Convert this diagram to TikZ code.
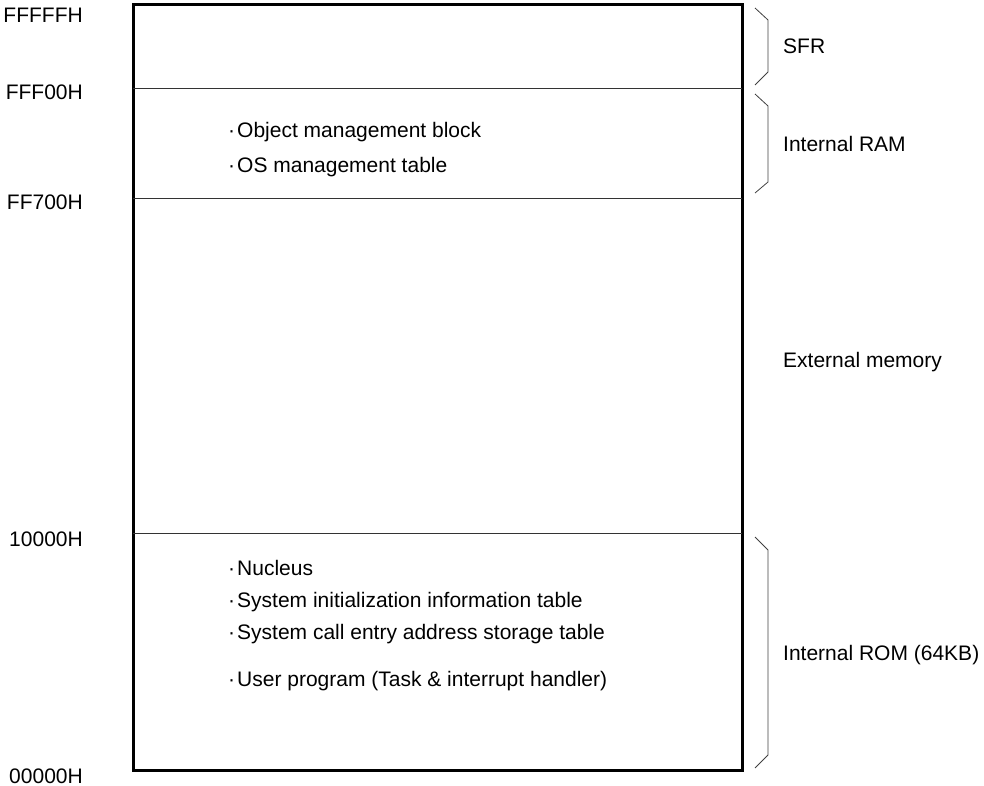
\documentclass[tikz,border=0pt]{standalone}
\usepackage{fontspec}
\setmainfont{Liberation Sans}
\begin{document}
\begin{tikzpicture}[x=1pt, y=-1pt,
		every node/.style={font=\fontsize{21}{25}\selectfont, inner sep=0pt},
		addr/.style={anchor=base east},
		area/.style={anchor=base west},
		item/.style={anchor=base west},
		sep/.style={black!80, line width=0.9pt},
		brace/.style={black!75, line width=0.8pt}]
	\useasboundingbox (0, 0) rectangle (984, 786);
	% memory map
	\draw[line width=3pt] (133, 5) rectangle (742, 770);
	\draw[sep] (133, 88) -- (742, 88);
	\draw[sep] (133, 198) -- (742, 198);
	\draw[sep] (133, 533) -- (742, 533);
	% addresses
	\node[addr] (ffffff) at (83, 23) {FFFFFH};
	\node[addr] (fff00) at (83, 100) {FFF00H};
	\node[addr] (ff700) at (83, 210) {FF700H};
	\node[addr] (a10000) at (83, 546) {10000H};
	\node[addr] (a00000) at (83, 783) {00000H};
	% contents
	\node[item] (omb) at (228, 138) {·\hspace{2pt}Object management block};
	\node[item] (ost) at (228, 173) {·\hspace{2pt}OS management table};
	\node[item] (nuc) at (228, 575) {·\hspace{2pt}Nucleus};
	\node[item] (sit) at (228, 607) {·\hspace{2pt}System initialization information table};
	\node[item] (sce) at (228, 639) {·\hspace{2pt}System call entry address storage table};
	\node[item] (usr) at (228, 686) {·\hspace{2pt}User program (Task \& interrupt handler)};
	% braces
	\draw[brace] (755, 8) -- (768, 20) -- (768, 72) -- (755, 85);
	\draw[brace] (755, 94) -- (768, 106) -- (768, 182) -- (755, 193);
	\draw[brace] (755, 537) -- (768, 550) -- (768, 755) -- (755, 768);
	\node[area] (sfr) at (783, 54) {SFR};
	\node[area] (iram) at (783, 152) {Internal RAM};
	\node[area] (ext) at (783, 367) {External memory};
	\node[area] (irom) at (783, 660) {Internal ROM (64KB)};
\end{tikzpicture}
\end{document}
